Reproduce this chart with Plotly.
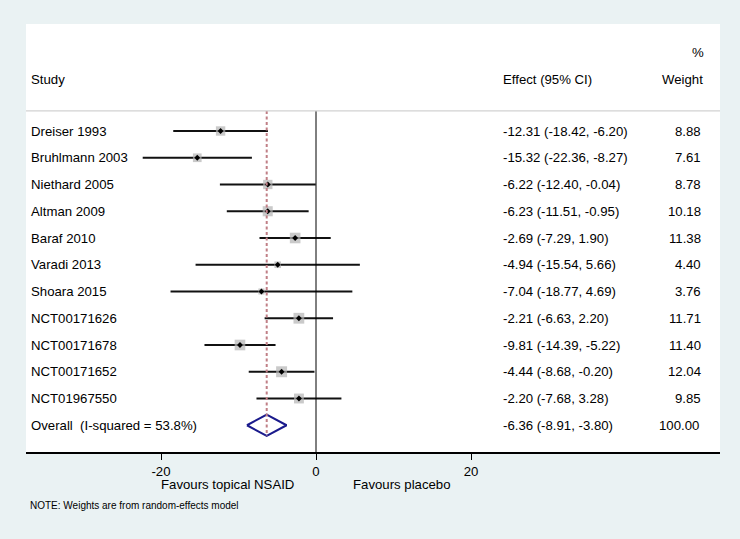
import plotly.graph_objects as go

studies = ["Dreiser 1993", "Bruhlmann 2003", "Niethard 2005", "Altman 2009", "Baraf 2010",
           "Varadi 2013", "Shoara 2015", "NCT00171626", "NCT00171678", "NCT00171652", "NCT01967550"]
effect = [-12.31, -15.32, -6.22, -6.23, -2.69, -4.94, -7.04, -2.21, -9.81, -4.44, -2.20]
ci_low = [-18.42, -22.36, -12.40, -11.51, -7.29, -15.54, -18.77, -6.63, -14.39, -8.68, -7.68]
ci_high = [-6.20, -8.27, -0.04, -0.95, 1.90, 5.66, 4.69, 2.20, -5.22, -0.20, 3.28]
weights = [8.88, 7.61, 8.78, 10.18, 11.38, 4.40, 3.76, 11.71, 11.40, 12.04, 9.85]

overall_label = "Overall  (I-squared = 53.8%)"
overall_effect = -6.36
overall_low = -8.91
overall_high = -3.80
overall_weight = 100.00

tick_vals = [-20, 0, 20]
tick_text = ["-20", "0", "20"]
favours_left = "Favours topical NSAID"
favours_right = "Favours placebo"
note = "NOTE: Weights are from random-effects model"

FONT = "Liberation Sans, Arial, Helvetica, sans-serif"
BG = "#EAF2F3"

rows = list(range(1, len(studies) + 1))
overall_row = len(studies) + 1

fig = go.Figure()

# CI lines
cx, cy = [], []
for r, lo, hi in zip(rows, ci_low, ci_high):
    cx += [lo, hi, None]
    cy += [r, r, None]
fig.add_trace(go.Scatter(x=cx, y=cy, mode="lines", line=dict(color="#111111", width=2),
                         hoverinfo="skip", showlegend=False))

# weight boxes
fig.add_trace(go.Scatter(x=effect, y=rows, mode="markers",
                         marker=dict(symbol="square", color="#B4B4B4",
                                     size=[3.15 * w ** 0.5 for w in weights], line=dict(width=0)),
                         showlegend=False))
# point estimates
fig.add_trace(go.Scatter(x=effect, y=rows, mode="markers",
                         marker=dict(symbol="diamond", color="black", size=4.5, line=dict(width=0)),
                         showlegend=False))

# overall diamond
h = 0.4
fig.add_trace(go.Scatter(
    x=[overall_low, overall_effect, overall_high, overall_effect, overall_low],
    y=[overall_row, overall_row - h, overall_row, overall_row + h, overall_row],
    mode="lines", line=dict(color="#1A1A8C", width=2), showlegend=False))

# reference lines
fig.add_shape(type="line", x0=0, x1=0, y0=0.25, y1=13, xref="x", yref="y",
              line=dict(color="black", width=1))
fig.add_shape(type="line", x0=overall_effect, x1=overall_effect, y0=0.25, y1=overall_row + h,
              xref="x", yref="y", line=dict(color="#C07F86", width=2, dash="3px,2.5px"))
fig.add_shape(type="line", x0=0, x1=1, y0=0.25, y1=0.25, xref="paper", yref="y",
              line=dict(color="#D2D2D2", width=1.2))

X_STUDY = -37.03
X_EFFECT = 23.87
X_WEIGHT = 49.9

ann = []
def txt(x, y, s, anchor="left", size=13.2, xref="x", yref="y"):
    ann.append(dict(x=x, y=y, text=s, xref=xref, yref=yref, showarrow=False,
                    xanchor=anchor, yanchor="middle", font=dict(family=FONT, size=size, color="black")))

txt(X_STUDY, -0.94, "Study")
txt(X_EFFECT, -0.94, "Effect (95% CI)")
txt(X_WEIGHT + 0.3, -0.94, "Weight", anchor="right")
txt(X_WEIGHT + 0.4, -1.95, "%", anchor="right")

for r, s, e, lo, hi, w in zip(rows, studies, effect, ci_low, ci_high, weights):
    txt(X_STUDY, r, s)
    txt(X_EFFECT, r, f"{e:.2f} ({lo:.2f}, {hi:.2f})")
    txt(X_WEIGHT, r, f"{w:.2f}", anchor="right")

txt(X_STUDY, overall_row, overall_label)
txt(X_EFFECT, overall_row, f"{overall_effect:.2f} ({overall_low:.2f}, {overall_high:.2f})")
txt(X_WEIGHT - 0.2, overall_row, f"{overall_weight:.2f}", anchor="right")

PLOT_H = 428.0
txt(-11.4, (452 - 484) / PLOT_H, favours_left, anchor="center", yref="paper")
txt(11.1, (452 - 484) / PLOT_H, favours_right, anchor="center", yref="paper")
txt((28 - 26) / 694, (452 - 505) / PLOT_H, note, size=10, xref="paper", yref="paper")

fig.update_layout(
    width=740, height=539,
    margin=dict(l=26, r=20, t=24, b=87),
    paper_bgcolor=BG, plot_bgcolor="white",
    annotations=ann,
    showlegend=False,
    xaxis=dict(range=[-37.42, 52.13], tickvals=tick_vals, ticktext=tick_text,
               ticks="outside", ticklen=6, tickwidth=1, tickcolor="black",
               showline=True, linecolor="black", linewidth=1.5, showgrid=False, zeroline=False,
               tickfont=dict(family=FONT, size=13.2, color="black"), fixedrange=True),
    yaxis=dict(range=[13, -3], showgrid=False, zeroline=False, showticklabels=False,
               showline=False, fixedrange=True),
)

fig.write_html("out.html", config={"displayModeBar": False},
               post_script="document.body.style.margin='0';document.body.style.padding='0';")
